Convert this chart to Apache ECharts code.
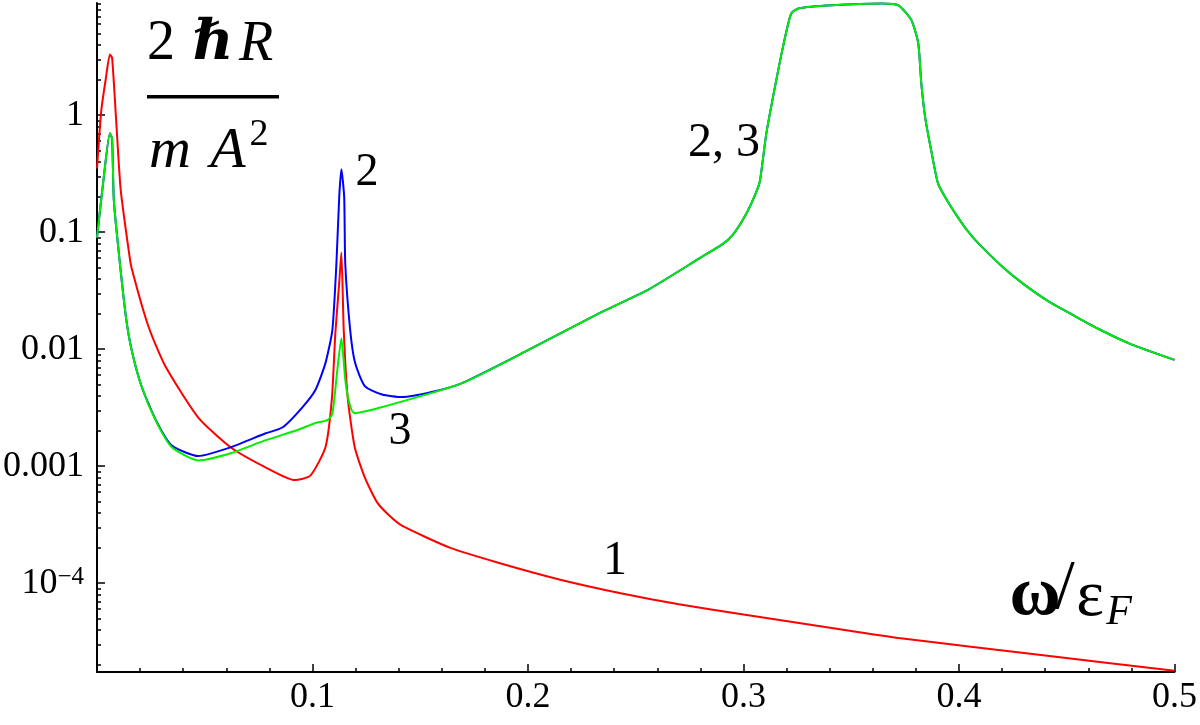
<!DOCTYPE html>
<html>
<head>
<meta charset="utf-8">
<script src="https://cdn.jsdelivr.net/npm/echarts@6/dist/echarts.min.js"></script>
<style>
html,body{margin:0;padding:0;background:#fff;}
#chart{width:1200px;height:725px;}
</style>
</head>
<body>
<div id="chart"></div>
<script>
// ---- data (ω/εF, 2ħR/(mA²)) ----
var omega1 = [0, 0.002, 0.004, 0.006, 0.007, 0.0088, 0.011, 0.0147, 0.016, 0.024, 0.0318, 0.047, 0.062, 0.078, 0.0917, 0.099, 0.106, 0.109, 0.1106, 0.1124, 0.1134, 0.1145, 0.1163, 0.1196, 0.1244, 0.130, 0.1355, 0.1415, 0.164, 0.187, 0.215, 0.243, 0.270, 0.300, 0.350, 0.372, 0.441, 0.500];
var curve1 = [0.35, 1.1, 2.0, 3.3, 3.1, 0.96, 0.23, 0.07, 0.05, 0.0154, 0.0071, 0.0026, 0.00145, 0.00098, 0.00076, 0.00083, 0.00145, 0.0038, 0.0137, 0.037, 0.067, 0.0145, 0.0039, 0.00145, 0.00079, 0.00049, 0.00038, 0.00031, 0.00020, 0.000148, 0.000107, 0.000082, 0.000066, 0.000054, 0.000039, 0.000034, 0.000024, 0.0000178];

var omega2 = [0, 0.003, 0.006, 0.007, 0.0078, 0.010, 0.0134, 0.0161, 0.0207, 0.0272, 0.0346, 0.047, 0.062, 0.078, 0.0862, 0.0954, 0.1014, 0.106, 0.1092, 0.1111, 0.1124, 0.1134, 0.1147, 0.1152, 0.1175, 0.1198, 0.1244, 0.1323, 0.1415, 0.1553, 0.1691, 0.2, 0.2336, 0.2567, 0.2797, 0.2903, 0.295, 0.2995, 0.3035, 0.3074, 0.309, 0.3106, 0.3134, 0.318, 0.3221, 0.3258, 0.341, 0.364, 0.3719, 0.3779, 0.3811, 0.3825, 0.3843, 0.3871, 0.3903, 0.395, 0.3995, 0.4041, 0.4088, 0.42, 0.43, 0.441, 0.452, 0.4641, 0.48, 0.5];
var curve2 = [0.09, 0.28, 0.70, 0.63, 0.19, 0.07, 0.019, 0.0098, 0.0048, 0.0025, 0.00151, 0.00122, 0.00145, 0.0019, 0.00215, 0.0032, 0.0045, 0.0076, 0.0145, 0.054, 0.2, 0.345, 0.2, 0.054, 0.0145, 0.0076, 0.0048, 0.0041, 0.0039, 0.0043, 0.0051, 0.0098, 0.0205, 0.033, 0.060, 0.079, 0.095, 0.126, 0.174, 0.263, 0.42, 0.70, 1.34, 3.6, 7.4, 8.2, 8.7, 9.0, 8.7, 6.5, 4.1, 1.88, 0.96, 0.5, 0.26, 0.18, 0.134, 0.102, 0.081, 0.051, 0.036, 0.026, 0.020, 0.0151, 0.011, 0.0081];

var omega3 = [0, 0.003, 0.006, 0.007, 0.0078, 0.010, 0.0134, 0.0161, 0.0207, 0.0272, 0.0346, 0.047, 0.062, 0.078, 0.0931, 0.1014, 0.1069, 0.1092, 0.1115, 0.1134, 0.1152, 0.1170, 0.1194, 0.1323, 0.1691, 0.2, 0.2336, 0.2567, 0.2797, 0.2903, 0.295, 0.2995, 0.3035, 0.3074, 0.309, 0.3106, 0.3134, 0.318, 0.3221, 0.3258, 0.341, 0.364, 0.3719, 0.3779, 0.3811, 0.3825, 0.3843, 0.3871, 0.3903, 0.395, 0.3995, 0.4041, 0.4088, 0.42, 0.43, 0.441, 0.452, 0.4641, 0.48, 0.5];
var curve3 = [0.09, 0.28, 0.70, 0.63, 0.19, 0.07, 0.019, 0.0098, 0.0048, 0.00246, 0.00146, 0.00112, 0.00129, 0.00166, 0.00204, 0.00234, 0.00247, 0.0028, 0.0066, 0.0124, 0.0055, 0.0035, 0.00284, 0.0032, 0.0051, 0.0098, 0.0205, 0.033, 0.060, 0.079, 0.095, 0.126, 0.174, 0.263, 0.42, 0.70, 1.34, 3.6, 7.4, 8.2, 8.7, 9.0, 8.7, 6.5, 4.1, 1.88, 0.96, 0.5, 0.26, 0.18, 0.134, 0.102, 0.081, 0.051, 0.036, 0.026, 0.020, 0.0151, 0.011, 0.0081];

var xTickValues = [0.1, 0.2, 0.3, 0.4, 0.5];
var xTickLabels = ['0.1', '0.2', '0.3', '0.4', '0.5'];
var yTickValues = [0.0001, 0.001, 0.01, 0.1, 1];
var yTickLabels = ['{b|10}{s|\u22124}', '0.001', '0.01', '0.1', '1'];
var yMin = 0.0000174, yMax = 9.1;

// ---- build ----
function lg(v){ return Math.log10(v); }
function pairs(xs, ys){ return xs.map(function(x,i){ return [x, lg(ys[i])]; }); }
var majorY = yTickValues.map(lg);
var minorY = [];
for (var n = -5; n <= 0; n++) for (var k = 2; k <= 9; k++) {
  var v = Math.log10(k) + n;
  if (v >= lg(yMin) && v <= lg(yMax)) minorY.push(v);
}
var SERIF = '"Liberation Serif", "DejaVu Serif", serif';
var FS = 36;

var chart = echarts.init(document.getElementById('chart'), null, {renderer: 'canvas'});
var lineBase = { type: 'line', showSymbol: false, smooth: 0.2, animation: false };
chart.setOption({
  backgroundColor: '#ffffff',
  animation: false,
  grid: { left: 93, right: 22, top: 3, bottom: 53, containLabel: false },
  xAxis: {
    type: 'value', min: 0, max: 0.5, interval: 0.1,
    axisLine: { onZero: false, lineStyle: { color: '#000', width: 2 } },
    axisTick: { inside: true, length: 8, lineStyle: { color: '#000', width: 1.5 } },
    minorTick: { show: true, splitNumber: 5, length: 4, lineStyle: { color: '#000', width: 1.5 } },
    splitLine: { show: false },
    axisLabel: {
      margin: 8, color: '#000', fontFamily: SERIF, fontSize: FS,
      formatter: function(v){ var i = xTickValues.findIndex(function(t){ return Math.abs(t - v) < 1e-9; }); return i >= 0 ? xTickLabels[i] : ''; }
    }
  },
  yAxis: [{
    type: 'value', min: lg(yMin), max: lg(yMax),
    axisLine: { show: true, onZero: false, lineStyle: { color: '#000', width: 2 } },
    axisTick: { show: true, inside: true, length: 8, customValues: majorY, lineStyle: { color: '#000', width: 1.5 } },
    splitLine: { show: false },
    axisLabel: {
      customValues: majorY, margin: 13, color: '#000', fontFamily: SERIF, fontSize: FS,
      formatter: function(v){ var i = majorY.findIndex(function(t){ return Math.abs(t - v) < 1e-9; }); return i >= 0 ? yTickLabels[i] : ''; },
      rich: {
        b: { fontFamily: SERIF, fontSize: FS, color: '#000', lineHeight: 36 },
        s: { fontFamily: SERIF, fontSize: 25, color: '#000', verticalAlign: 'top', lineHeight: 36, padding: [0, 0, 14, 0] }
      }
    }
  }, {
    type: 'value', min: lg(yMin), max: lg(yMax), position: 'left', offset: 0,
    axisLine: { show: false, onZero: false },
    axisTick: { show: true, inside: true, length: 4, customValues: minorY, lineStyle: { color: '#000', width: 1.5 } },
    splitLine: { show: false },
    axisLabel: { show: false }
  }],
  series: [
    Object.assign({}, lineBase, { name: '1', data: pairs(omega1, curve1), lineStyle: { color: '#ff0000', width: 2 }, itemStyle: { color: '#ff0000' } }),
    Object.assign({}, lineBase, { name: '2', data: pairs(omega2, curve2), lineStyle: { color: '#0000ff', width: 2 }, itemStyle: { color: '#0000ff' } }),
    Object.assign({}, lineBase, { name: '3', data: pairs(omega3, curve3), lineStyle: { color: '#00ee00', width: 2 }, itemStyle: { color: '#00ee00' } })
  ],
  graphic: [
    { type: 'text', x: 161, y: 44, style: { text: '2', font: '56px ' + SERIF, fill: '#000', align: 'center', verticalAlign: 'middle' } },
    { type: 'text', x: 213, y: 45, style: { text: 'ℏ', font: 'bold 56px ' + SERIF, fill: '#000', align: 'center', verticalAlign: 'middle' } },
    { type: 'text', x: 256, y: 45, style: { text: 'R', font: 'italic 56px ' + SERIF, fill: '#000', align: 'center', verticalAlign: 'middle' } },
    { type: 'rect', shape: { x: 147, y: 95, width: 132, height: 3.5 }, style: { fill: '#000' } },
    { type: 'text', x: 170, y: 152, style: { text: 'm', font: 'italic 58px ' + SERIF, fill: '#000', align: 'center', verticalAlign: 'middle' } },
    { type: 'text', x: 228, y: 152, style: { text: 'A', font: 'italic 58px ' + SERIF, fill: '#000', align: 'center', verticalAlign: 'middle' } },
    { type: 'text', x: 259, y: 135, style: { text: '2', font: '38px ' + SERIF, fill: '#000', align: 'center', verticalAlign: 'middle' } },
    { type: 'text', x: 367, y: 173, style: { text: '2', font: '46px ' + SERIF, fill: '#000', align: 'center', verticalAlign: 'middle' } },
    { type: 'text', x: 400, y: 432, style: { text: '3', font: '46px ' + SERIF, fill: '#000', align: 'center', verticalAlign: 'middle' } },
    { type: 'text', x: 724, y: 143, style: { text: '2, 3', font: '48px ' + SERIF, fill: '#000', align: 'center', verticalAlign: 'middle' } },
    { type: 'text', x: 615, y: 561, style: { text: '1', font: '48px ' + SERIF, fill: '#000', align: 'center', verticalAlign: 'middle' } },
    { type: 'text', x: 1035, y: 596, style: { text: 'ω', font: 'bold 70px ' + SERIF, fill: '#000', align: 'center', verticalAlign: 'middle' } },
    { type: 'text', x: 1065, y: 590, style: { text: '/', font: '70px ' + SERIF, fill: '#000', align: 'center', verticalAlign: 'middle' } },
    { type: 'text', x: 1090, y: 598, style: { text: 'ε', font: '66px ' + SERIF, fill: '#000', align: 'center', verticalAlign: 'middle' } },
    { type: 'text', x: 1119, y: 613, style: { text: 'F', font: 'italic 42px ' + SERIF, fill: '#000', align: 'center', verticalAlign: 'middle' } }
  ]
});
</script>
</body>
</html>
